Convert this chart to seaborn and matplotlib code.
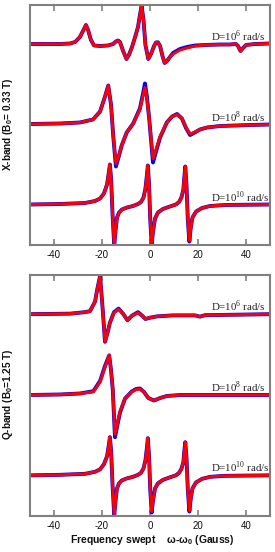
import numpy as np
import pandas as pd
import matplotlib
matplotlib.use("Agg")
import matplotlib.pyplot as plt
import seaborn as sns

# ---------------- data (field offset in Gauss, signal in arbitrary units) ----------------
x_x6 = [-50, -37.5, -33.3, -31.2, -29.2, -27.5, -26.7, -25.8, -24.6, -23.3, -20.8, -17.5, -15.4,
        -14.2, -13.3, -12.5, -11.2, -9.8, -8.8, -7.5, -6.2, -5.0, -4.2, -3.5, -2.7, -1.9, -0.7,
        0.4, 1.7, 2.5, 3.3, 4.2, 5.2, 6.1, 7.1, 8.3, 9.6, 12.5, 15.4, 18.8, 22.9, 29.2, 33.3,
        35.8, 36.7, 37.7, 38.8, 40.0, 43.8, 50]
x6_red = [0, 0, 0.5, 2, 7, 15, 19, 14, 4, -1.5, -2, -1.5, 0, 2.5, 3.5, 2, -7, -15, -11, -3,
          7, 17, 29, 38, 24, -1, -15, -10, -2, 1.5, 1.7, -2, -12, -19, -17, -13, -10, -6, -4, -2,
          -1, -0.5, -0.5, 0, -2, -7, -4, -1, 0, 0.5]
x6_blue = [0, 0, 0.5, 2, 7, 15, 19, 14, 4, -1.5, -2, -1.5, 0, 2.5, 3.5, 2, -7, -15, -11, -3,
           7, 17, 29, 38, 24, -1, -15, -10, -2, 1.5, 1.7, -2, -12, -19, -17, -13, -9, -5, -3, -1.5,
           -1, -0.5, -0.5, 0, -2, -7, -4, -1, 0, 0.5]

x_x8 = [-50, -37.5, -29.2, -23.75, -20.8, -18.75, -17.4, -16.25, -15.3, -14.2, -12.9, -11.8,
        -9.7, -7.0, -4.2, -2.9, -2.1, -1.25, -0.3, 1.25, 2.5, 4.2, 7.0, 9.2, 11.25, 13.3, 15.0,
        16.7, 18.3, 20.8, 23.75, 29.2, 35.4, 41.7, 50]
x8_red = [0.5, 1, 2, 5, 13, 28, 39, 20, -12, -39, -30, -21, -8, 1, 15, 29, 37, 25, 5, -34,
          -25, -12, 2, 8, 10, 6, -3, -9.5, -8, -5, -3, -1.5, -1, -0.5, 0]
x8_blue = [0.5, 1, 2, 5, 13, 28, 39, 20, -12, -42, -31, -21, -8, 1, 16, 31, 41, 27, 5, -38,
           -27, -13, 2, 8, 10.5, 6, -3.5, -10.5, -8.5, -5, -3, -1.5, -1, -0.5, 0]

x_x10 = [-50, -37.5, -27.1, -22.9, -20.8, -19.2, -17.9, -17.1, -16.7, -16.2, -15.6, -14.9, -14.4,
         -13.75, -12.9, -11.7, -9.6, -7.1, -5.0, -3.75, -2.7, -1.9, -1.25, -0.9, -0.4, 0.1, 0.7,
         1.25, 2.1, 3.3, 5.4, 8.3, 10.8, 12.1, 13.1, 13.9, 14.3, 14.7, 15.2, 15.75, 16.4, 17.0,
         17.7, 19.2, 21.7, 25.0, 31.25, 50]
x10_red = [0, 0.5, 1.5, 3.5, 6, 11, 20, 33, 40, 25, -10, -41, -27, -13, -8, -5, -3, -1.5, 0.5,
           2.5, 7, 16, 30, 39, 20, -15, -40, -27, -14, -8, -4.5, -2, 0, 2.5, 7, 15, 27, 38, 20,
           -15, -36, -23, -13, -7, -3.5, -1.5, -0.5, 0]
x10_blue = [0, 0.5, 1.5, 3.5, 6, 11, 20, 33, 40, 25, -10, -41, -27, -13, -8, -5, -3, -1.5, 0.5,
            2.5, 7, 16, 30, 39, 20, -15, -40, -27, -14, -8, -4.5, -2, 0, 2.5, 7, 15, 27, 38, 20,
            -15, -37, -23, -13, -7, -3.5, -1.5, -0.5, 0]

x_q6 = [-50, -33.3, -27.1, -25, -22.9, -22.0, -20.8, -19.7, -18.75, -17.7, -16.7, -15.0, -13.1,
        -11.25, -9.4, -7.5, -5.0, -3.3, -1.9, 0, 2.9, 9.6, 18.75, 20.8, 22.9, 37.5, 50]
q6_red = [0, 0.5, 2, 3, 12.5, 24.5, 38, 4.5, -27.5, -18.5, -8.5, 1.5, 5, 0.5, -6, -1.5, 1.5,
          -1.5, -4.8, -3.5, -2.2, -1.2, -1.2, -2.5, -1, -0.5, 0]
q6_blue = [0, 0.5, 2, 3, 12.5, 24.5, 38, 4.5, -27.5, -18.5, -8.5, 2, 5.5, 0.5, -6, -1.5, 2,
           -1.5, -4.8, -3.5, -2.2, -1.2, -1.2, -2.5, -1, -0.5, 0]

x_q8 = [-50, -37.5, -29.2, -23.6, -20.8, -18.75, -17.0, -16.25, -15.5, -14.6, -13.5, -12.5,
        -10.4, -7.6, -5.8, -4.2, -2.5, -0.7, 1.7, 4.2, 7.0, 12.5, 29.2, 50]
q8_red = [0, 0.5, 1.5, 3.3, 13, 28, 39.5, 25, 5, -39, -27, -16.7, -3.5, 3.3, 5.5, 6, 3, -3,
          -5.5, -3, -1, 0, 0, 0]
q8_blue = [0, 0.5, 1.5, 3.8, 14, 29, 39.5, 25, 5, -42, -29, -17.5, -3.5, 3.5, 6, 6.5, 3, -3,
           -5.5, -3, -1, 0, 0, 0]

x_q10 = [-50, -37.5, -27.1, -22.9, -20.8, -19.2, -17.9, -17.1, -16.7, -16.2, -15.6, -14.9, -14.4,
         -13.75, -12.9, -11.7, -9.6, -7.1, -5.0, -3.75, -2.7, -1.9, -1.25, -0.9, -0.4, 0.1, 0.7,
         1.25, 2.1, 3.3, 5.4, 8.3, 10.8, 12.1, 13.1, 13.9, 14.3, 14.7, 15.2, 15.75, 16.4, 17.0,
         17.7, 19.2, 21.7, 25.0, 31.25, 50]
q10_red = [0, 0.5, 1.5, 3.5, 6, 11, 19, 31, 38, 24, -10, -39, -26, -13, -8, -5, -3, -1.5, 0.5,
           2.5, 7, 15, 28, 37, 19, -14, -36, -25, -13, -8, -4.5, -2, 0, 2.5, 6.5, 13, 24, 33, 18,
           -14, -35, -23, -13, -7, -3.5, -1.5, -0.5, 0]
q10_blue = [0, 0.5, 1.5, 3.5, 6, 11, 19, 31, 38, 24, -10, -40, -26, -13, -8, -5, -3, -1.5, 0.5,
            2.5, 7, 15, 28, 37, 19, -14, -37, -25, -13, -8, -4.5, -2, 0, 2.5, 6.5, 13, 24, 33, 18,
            -14, -36, -23, -13, -7, -3.5, -1.5, -0.5, 0]

rates = ["D=10$^{\\mathrm{6}}$ rad/s", "D=10$^{\\mathrm{8}}$ rad/s", "D=10$^{\\mathrm{10}}$ rad/s"]
panel_labels = ["X-band (B$_\\mathbf{0}$= 0.33 T)", "Q-band (B$_\\mathbf{0}$=1.25 T)"]
xticks = [-40, -20, 0, 20, 40]
xlabel = "Frequency swept    \u03c9-\u03c9$_\\mathbf{0}$ (Gauss)"

# ---------------- style ----------------
sns.set_theme(style="white")
plt.rcParams["font.family"] = ["Liberation Sans", "DejaVu Sans"]
plt.rcParams["axes.unicode_minus"] = False
plt.rcParams["mathtext.fontset"] = "custom"
plt.rcParams["mathtext.rm"] = "Liberation Serif"
plt.rcParams["mathtext.bf"] = "Liberation Sans:bold"

GRAY = "#808080"
fig = plt.figure(figsize=(2.75, 5.52), dpi=100)
W, H = 275, 552
ax_top = fig.add_axes([30 / W, (H - 245) / H, 240 / W, 240 / H])
ax_bot = fig.add_axes([30 / W, (H - 516) / H, 240 / W, 241 / H])

panels = [
    (ax_top, [(x_x6, x6_red, x6_blue), (x_x8, x8_red, x8_blue), (x_x10, x10_red, x10_blue)]),
    (ax_bot, [(x_q6, q6_red, q6_blue), (x_q8, q8_red, q8_blue), (x_q10, q10_red, q10_blue)]),
]
offsets = [201, 120.5, 40.5]

for ax, curves in panels:
    for (xs, red, blue), off, lab in zip(curves, offsets, rates):
        df = pd.DataFrame({"x": xs, "red": np.array(red) + off, "blue": np.array(blue) + off})
        sns.lineplot(data=df, x="x", y="blue", ax=ax, color="#0000ff", lw=2.8, sort=False,
                     estimator=None)
        sns.lineplot(data=df, x="x", y="red", ax=ax, color="#ff0000", lw=2.1, sort=False,
                     estimator=None)
        ax.text(25.3, off + 3, lab, family="Liberation Serif", fontsize=7.8, ha="left",
                va="baseline", color="#222222")
    ax.set_xlim(-50, 50)
    ax.set_ylim(0, 240)
    ax.set_xticks(xticks)
    ax.set_xticklabels([str(t) for t in xticks])
    ax.set_yticks([])
    ax.set_xlabel("")
    ax.set_ylabel("")
    ax.tick_params(axis="x", direction="in", top=True, bottom=True, length=4, width=1.2,
                   color=GRAY, labelsize=7, pad=3.5, labelcolor="#111111")
    for s in ax.spines.values():
        s.set_color(GRAY)
        s.set_linewidth(1.5)
        s.set_visible(True)

fig.text(8.5 / W, 1 - 124 / H, panel_labels[0], rotation=90, ha="center", va="center",
         fontsize=7.2, fontweight="bold", color="#111111")
fig.text(8.5 / W, 1 - 394 / H, panel_labels[1], rotation=90, ha="center", va="center",
         fontsize=7.2, fontweight="bold", color="#111111")
fig.text(152.5 / W, (H - 543) / H, xlabel, ha="center", va="baseline", fontsize=7.5,
         fontweight="bold", color="#111111")

fig.savefig("out.png", dpi=100)
